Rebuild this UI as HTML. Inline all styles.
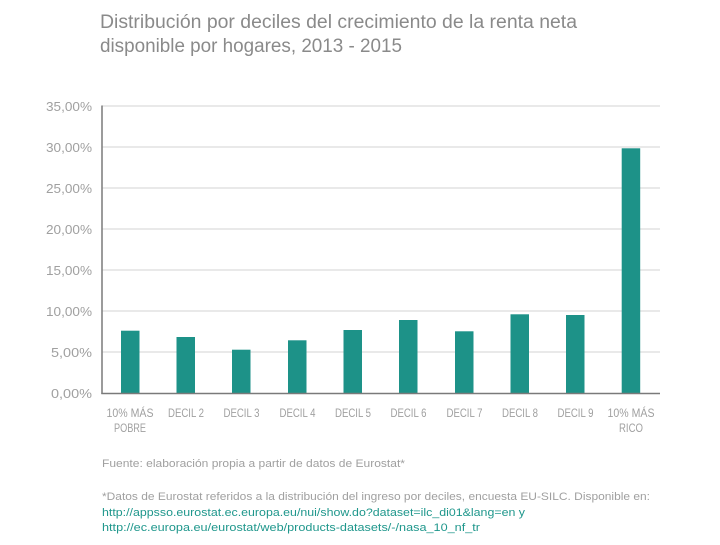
<!DOCTYPE html>
<html>
<head>
<meta charset="utf-8">
<style>
  html,body{margin:0;padding:0;background:#fff;}
  svg{display:block;}
  text{font-family:"Liberation Sans", "DejaVu Sans", sans-serif;}
</style>
</head>
<body>
<svg width="720" height="545" viewBox="0 0 720 545" xmlns="http://www.w3.org/2000/svg">
  <rect width="720" height="545" fill="#fff"/>
  <!-- Title -->
  <text x="100" y="28" font-size="19" fill="#8a8a8a" textLength="477" lengthAdjust="spacingAndGlyphs">Distribución por deciles del crecimiento de la renta neta</text>
  <text x="100" y="52" font-size="19" fill="#8a8a8a" textLength="302" lengthAdjust="spacingAndGlyphs">disponible por hogares, 2013 - 2015</text>

  <!-- Gridlines -->
  <g stroke="#dcdcdc" stroke-width="1.3">
    <line x1="102" y1="106" x2="660" y2="106"/>
    <line x1="102" y1="147" x2="660" y2="147"/>
    <line x1="102" y1="188" x2="660" y2="188"/>
    <line x1="102" y1="229" x2="660" y2="229"/>
    <line x1="102" y1="270" x2="660" y2="270"/>
    <line x1="102" y1="311" x2="660" y2="311"/>
    <line x1="102" y1="352" x2="660" y2="352"/>
  </g>

  <!-- Y labels -->
  <g font-size="13" fill="#a0a0a0" text-anchor="end">
    <text x="92" y="111" textLength="46" lengthAdjust="spacingAndGlyphs">35,00%</text>
    <text x="92" y="152" textLength="46" lengthAdjust="spacingAndGlyphs">30,00%</text>
    <text x="92" y="193" textLength="46" lengthAdjust="spacingAndGlyphs">25,00%</text>
    <text x="92" y="234" textLength="46" lengthAdjust="spacingAndGlyphs">20,00%</text>
    <text x="92" y="275" textLength="46" lengthAdjust="spacingAndGlyphs">15,00%</text>
    <text x="92" y="316" textLength="46" lengthAdjust="spacingAndGlyphs">10,00%</text>
    <text x="92" y="357" textLength="41" lengthAdjust="spacingAndGlyphs">5,00%</text>
    <text x="92" y="398" textLength="41" lengthAdjust="spacingAndGlyphs">0,00%</text>
  </g>

  <!-- Bars -->
  <g fill="#1d9288">
    <rect x="121" y="330.7" width="18.5" height="62.8"/>
    <rect x="176.5" y="337" width="18.5" height="56.5"/>
    <rect x="232" y="349.7" width="18.5" height="43.8"/>
    <rect x="288" y="340.3" width="18.5" height="53.2"/>
    <rect x="343.5" y="330" width="18.5" height="63.5"/>
    <rect x="399" y="320" width="18.5" height="73.5"/>
    <rect x="455" y="331.3" width="18.5" height="62.2"/>
    <rect x="510.5" y="314.3" width="18.5" height="79.2"/>
    <rect x="566" y="315" width="18.5" height="78.5"/>
    <rect x="621.7" y="148.3" width="18.5" height="245.2"/>
  </g>

  <!-- Axes -->
  <line x1="102" y1="105.5" x2="102" y2="394" stroke="#7a7a7a" stroke-width="1.5"/>
  <line x1="101.3" y1="393.5" x2="660" y2="393.5" stroke="#7a7a7a" stroke-width="1.5"/>

  <!-- X labels -->
  <g font-size="12" fill="#a0a0a0" text-anchor="middle">
    <text x="130" y="417" textLength="47" lengthAdjust="spacingAndGlyphs">10% MÁS</text>
    <text x="130" y="432" textLength="32" lengthAdjust="spacingAndGlyphs">POBRE</text>
    <text x="186" y="417" textLength="36" lengthAdjust="spacingAndGlyphs">DECIL 2</text>
    <text x="241.5" y="417" textLength="36" lengthAdjust="spacingAndGlyphs">DECIL 3</text>
    <text x="297.5" y="417" textLength="36" lengthAdjust="spacingAndGlyphs">DECIL 4</text>
    <text x="353" y="417" textLength="36" lengthAdjust="spacingAndGlyphs">DECIL 5</text>
    <text x="408.5" y="417" textLength="36" lengthAdjust="spacingAndGlyphs">DECIL 6</text>
    <text x="464.5" y="417" textLength="36" lengthAdjust="spacingAndGlyphs">DECIL 7</text>
    <text x="520" y="417" textLength="36" lengthAdjust="spacingAndGlyphs">DECIL 8</text>
    <text x="575.5" y="417" textLength="36" lengthAdjust="spacingAndGlyphs">DECIL 9</text>
    <text x="631" y="417" textLength="47" lengthAdjust="spacingAndGlyphs">10% MÁS</text>
    <text x="631" y="432" textLength="24" lengthAdjust="spacingAndGlyphs">RICO</text>
  </g>

  <!-- Footer -->
  <text x="102" y="467" font-size="11" fill="#a0a0a0" textLength="303" lengthAdjust="spacingAndGlyphs">Fuente: elaboración propia a partir de datos de Eurostat*</text>
  <text x="102" y="500" font-size="11" fill="#a0a0a0" textLength="548" lengthAdjust="spacingAndGlyphs">*Datos de Eurostat referidos a la distribución del ingreso por deciles, encuesta EU-SILC. Disponible en:</text>
  <text x="102" y="516" font-size="11" fill="#1f978c" textLength="423" lengthAdjust="spacingAndGlyphs">http://appsso.eurostat.ec.europa.eu/nui/show.do?dataset=ilc_di01&amp;lang=en y</text>
  <text x="102" y="531" font-size="11" fill="#1f978c" textLength="378" lengthAdjust="spacingAndGlyphs">http://ec.europa.eu/eurostat/web/products-datasets/-/nasa_10_nf_tr</text>
</svg>
</body>
</html>
